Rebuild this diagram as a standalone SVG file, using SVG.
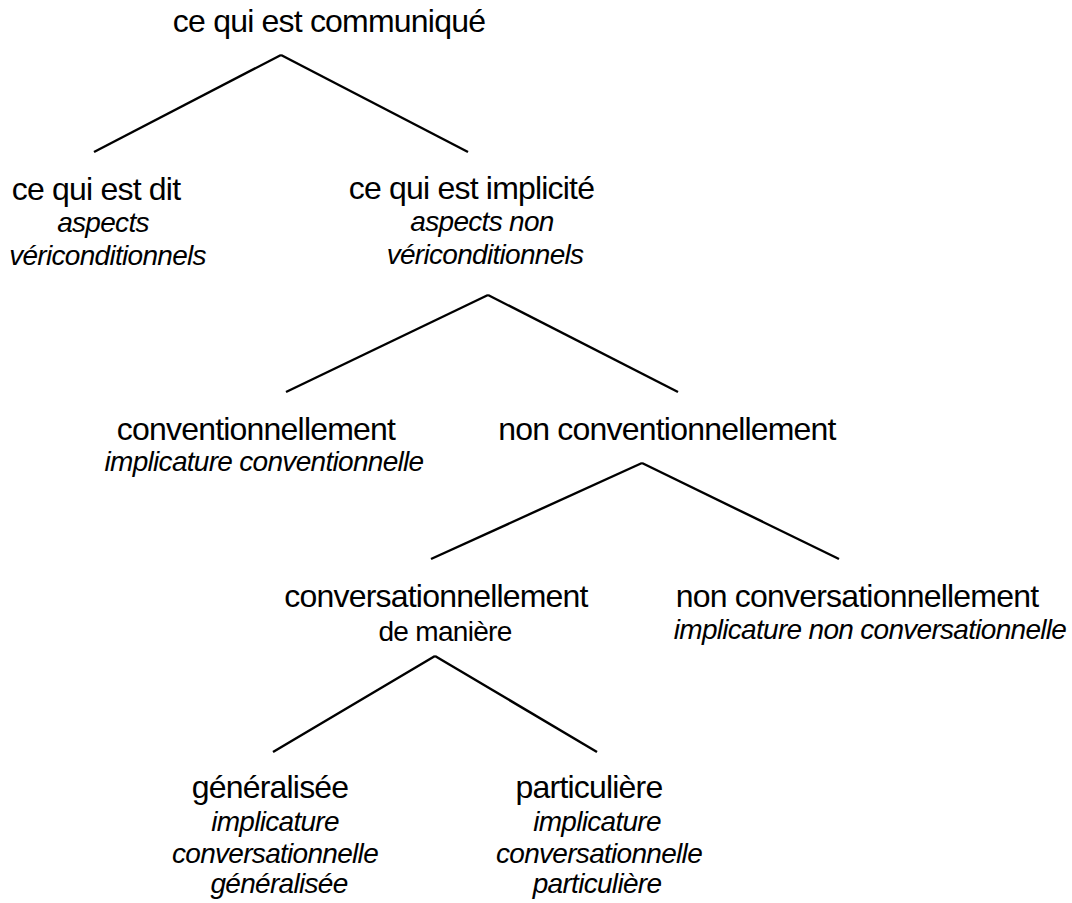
<svg xmlns="http://www.w3.org/2000/svg" width="1072" height="903" viewBox="0 0 1072 903">
<style>
text{font-family:"Liberation Sans",Arial,Helvetica,sans-serif;fill:#000;text-anchor:middle}
.m{font-size:32px;letter-spacing:-0.8px}
.s{font-size:28px;font-style:italic;letter-spacing:-0.7px}
.r{font-size:28px;letter-spacing:-0.7px}
.c line{stroke:#000;stroke-width:2.4;stroke-linecap:butt}
</style>
<rect width="1072" height="903" fill="#fff"/>
<g id="connectors" class="c">
<line x1="281" y1="55" x2="94" y2="152"/>
<line x1="281" y1="55" x2="468" y2="152"/>
<line x1="488" y1="295" x2="286" y2="392"/>
<line x1="488" y1="295" x2="678" y2="392"/>
<line x1="642" y1="463" x2="431" y2="559"/>
<line x1="642" y1="463" x2="839" y2="559"/>
<line x1="435" y1="656" x2="273" y2="752"/>
<line x1="435" y1="656" x2="597" y2="752"/>
</g>
<g id="root"><text class="m" x="329" y="32">ce qui est communiqué</text></g>
<g id="dit">
<text class="m" x="96" y="200">ce qui est dit</text>
<text class="s" x="103" y="232">aspects</text>
<text class="s" x="107.5" y="265">vériconditionnels</text>
</g>
<g id="implicite">
<text class="m" x="471.5" y="199">ce qui est implicité</text>
<text class="s" x="482" y="231">aspects non</text>
<text class="s" x="485" y="264">vériconditionnels</text>
</g>
<g id="conventionnellement">
<text class="m" x="256" y="440">conventionnellement</text>
<text class="s" x="264" y="471">implicature conventionnelle</text>
</g>
<g id="non-conventionnellement">
<text class="m" x="667" y="440">non conventionnellement</text>
</g>
<g id="conversationnellement">
<text class="m" x="436" y="607">conversationnellement</text>
<text class="r" x="445" y="641">de manière</text>
</g>
<g id="non-conversationnellement">
<text class="m" x="857" y="607">non conversationnellement</text>
<text class="s" x="870" y="639">implicature non conversationnelle</text>
</g>
<g id="generalisee">
<text class="m" x="270" y="798">généralisée</text>
<text class="s" x="275" y="831">implicature</text>
<text class="s" x="275" y="863">conversationnelle</text>
<text class="s" x="279" y="893">généralisée</text>
</g>
<g id="particuliere">
<text class="m" x="589" y="798">particulière</text>
<text class="s" x="597" y="831">implicature</text>
<text class="s" x="599" y="863">conversationnelle</text>
<text class="s" x="597" y="893">particulière</text>
</g>
</svg>
